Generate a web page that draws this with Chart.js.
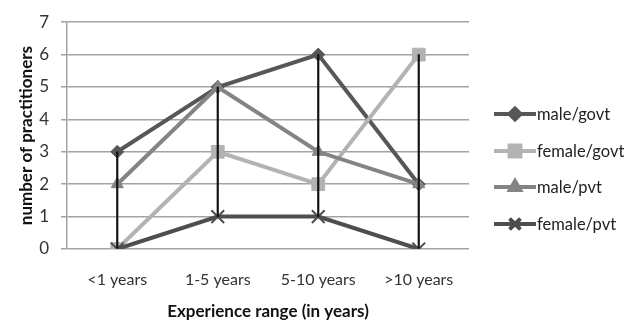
<!DOCTYPE html>
<html>
<head>
<meta charset="utf-8">
<script src="https://cdn.jsdelivr.net/npm/chart.js@4/dist/chart.umd.min.js"></script>
<style>
  html, body { margin: 0; padding: 0; background: #fff; }
  #wrap { position: relative; width: 625px; height: 322px; overflow: hidden; }
  #legend { position: absolute; left: 494px; top: 96px; font-family: Lato, "Open Sans", sans-serif; font-size: 16.5px; color: #222; }
  .li { display: flex; align-items: center; height: 36.5px; white-space: nowrap; }
  .li canvas { margin-right: 1px; }
</style>
</head>
<body>
<div id="wrap">
  <canvas id="c" width="625" height="322"></canvas>
  <div id="legend"></div>
</div>
<script>
// ---- data ----
const categories = ['<1 years', '1-5 years', '5-10 years', '>10 years'];
const seriesNames = ['male/govt', 'female/govt', 'male/pvt', 'female/pvt'];
const maleGovt   = [3, 5, 6, 2];
const femaleGovt = [0, 3, 2, 6];
const malePvt    = [2, 5, 3, 2];
const femalePvt  = [0, 1, 1, 0];
const yTickMin = 0;
const yTickMax = 7;
const yTickStep = 1;
const yTitle = 'number of practitioners';
const xTitle = 'Experience range (in years)';

// ---- styles ----
const styles = [
  { color: '#575757', point: 'rectRot', radius: 6.5, pbw: 1 },
  { color: '#b3b3b3', point: 'rect', radius: 9, pbw: 1 },
  { color: '#848484', point: 'triangle', radius: 7, pbw: 1 },
  { color: '#4e4e4e', point: 'crossRot', radius: 9, pbw: 2 }
];
const seriesData = [maleGovt, femaleGovt, malePvt, femalePvt];

// high-low lines from series values
const hiLow = categories.map((_, i) => {
  const vals = seriesData.map(s => s[i]);
  return [Math.min(...vals), Math.max(...vals)];
});

const datasets = seriesData.map((d, i) => ({
  type: 'line',
  label: seriesNames[i],
  data: d,
  borderColor: styles[i].color,
  backgroundColor: styles[i].color,
  borderWidth: 4,
  pointStyle: styles[i].point,
  pointRadius: styles[i].radius,
  pointHoverRadius: styles[i].radius,
  pointBorderWidth: styles[i].pbw,
  pointBorderColor: styles[i].color,
  pointBackgroundColor: styles[i].color,
  tension: 0,
  order: 4 - i
}));
datasets.push({
  type: 'bar',
  label: 'hilow',
  data: hiLow,
  backgroundColor: '#111',
  borderWidth: 0,
  barThickness: 1.5,
  order: 0
});

const PAD_LEFT = 8;
const PAD_BOTTOM = 0;
const AREA_BOTTOM = 249;

new Chart(document.getElementById('c'), {
  data: { labels: categories, datasets },
  options: {
    responsive: false,
    animation: false,
    devicePixelRatio: 1,
    layout: { padding: { left: PAD_LEFT, right: 156, top: 19, bottom: PAD_BOTTOM } },
    plugins: { legend: { display: false }, tooltip: { enabled: false } },
    scales: {
      x: {
        type: 'category',
        offset: true,
        grid: { display: false, drawTicks: false },
        border: { display: false },
        ticks: { color: '#333', font: { family: 'Lato', size: 16 }, padding: 21 },
        title: { display: true, text: xTitle, color: '#111', font: { family: 'Lato', size: 17, weight: 'bold' }, padding: { top: 0, bottom: 0 } },
        afterFit: s => { s.height = 322 - PAD_BOTTOM - AREA_BOTTOM; }
      },
      y: {
        min: yTickMin, max: yTickMax,
        ticks: { stepSize: yTickStep, color: '#333', font: { family: 'Lato', size: 17 }, padding: 12 },
        grid: { color: '#a3a3a3', lineWidth: 1.5, tickLength: 6 },
        border: { color: '#a3a3a3', width: 1.5 },
        title: { display: true, text: yTitle, color: '#111', font: { family: 'Lato', size: 17, weight: 'bold' }, padding: { top: 8, bottom: 0 } },
        afterFit: s => { s.width = 67 - PAD_LEFT; }
      }
    }
  }
});

// ---- legend (HTML text, drawn symbols) ----
const legend = document.getElementById('legend');
seriesNames.forEach((name, i) => {
  const row = document.createElement('div');
  row.className = 'li';
  const cv = document.createElement('canvas');
  cv.width = 42; cv.height = 20;
  const ctx = cv.getContext('2d');
  const st = styles[i];
  ctx.strokeStyle = st.color; ctx.fillStyle = st.color; ctx.lineWidth = 4;
  ctx.beginPath(); ctx.moveTo(0, 10); ctx.lineTo(42, 10); ctx.stroke();
  Chart.helpers.drawPoint(ctx, { pointStyle: st.point, radius: st.radius * 0.85, borderWidth: st.pbw, rotation: 0 }, 21, 10);
  ctx.lineWidth = st.pbw;
  ctx.fill(); ctx.stroke();
  row.appendChild(cv);
  const t = document.createElement('span');
  t.textContent = name;
  row.appendChild(t);
  legend.appendChild(row);
});
</script>
</body>
</html>
